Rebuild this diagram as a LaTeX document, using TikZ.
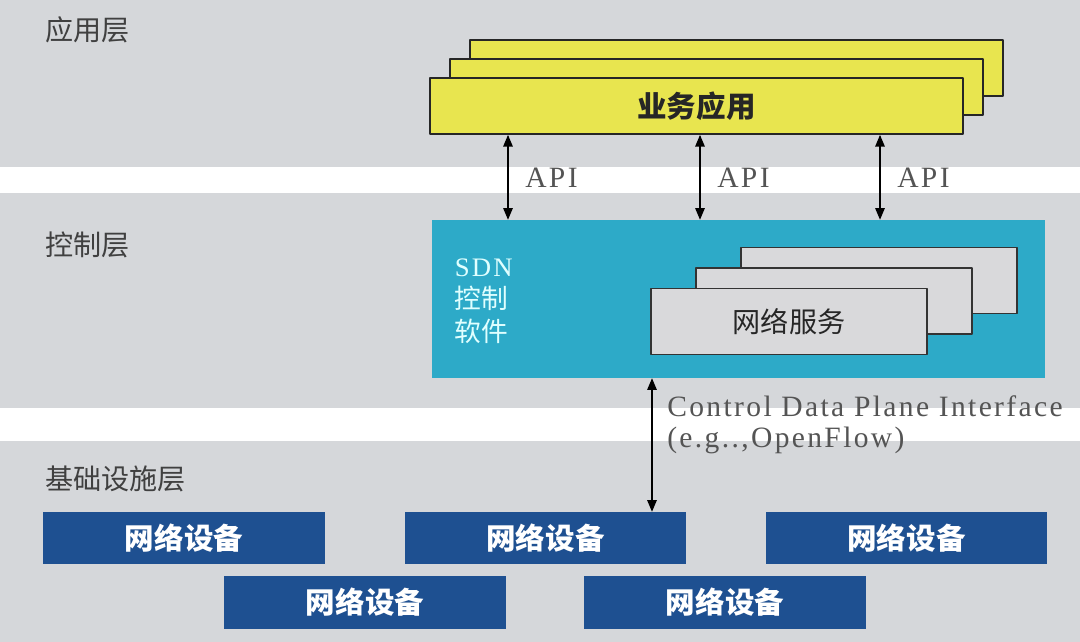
\documentclass[tikz,border=0pt]{standalone}
\usepackage{fontspec}
\setmainfont{Liberation Serif}
\newfontfamily\cjk{Noto Sans CJK SC}
\newfontfamily\spacedserif[LetterSpace=8]{Liberation Serif}
\usetikzlibrary{arrows}
\definecolor{ddddee}{rgb}{0.835,0.843,0.855}
\definecolor{eeeeqq}{rgb}{0.91,0.9,0.31}
\definecolor{ttaacc}{rgb}{0.176,0.667,0.784}
\definecolor{qqttaa}{rgb}{0.118,0.314,0.569}
\definecolor{dddddd}{rgb}{0.85,0.85,0.86}
\definecolor{llllll}{rgb}{0.33,0.33,0.33}
\definecolor{eeffff}{rgb}{0.88,1,1}
\tikzset{
  layer/.style={anchor=west,inner sep=0pt,text=black!75,font=\cjk\fontsize{20}{24}\selectfont},
  appbox/.style={draw=black!85,line width=1.4pt,fill=eeeeqq,minimum width=13.3cm,minimum height=1.4cm,inner sep=0pt},
  servbox/.style={draw=black!80,line width=1.4pt,fill=dddddd,minimum width=6.9cm,minimum height=1.65cm,inner sep=0pt},
  devbox/.style={fill=qqttaa,text=white,minimum width=7.03cm,minimum height=1.3cm,inner sep=0pt,font=\cjk\bfseries\fontsize{21}{24}\selectfont},
  iflabel/.style={anchor=west,text=llllll,font=\spacedserif\fontsize{21}{22}\selectfont}
}
\begin{document}
\begin{tikzpicture}[line cap=round,line join=round,>=triangle 45,x=0.025cm,y=-0.025cm]
      \useasboundingbox (0,0) rectangle (1080,642);
      \fill[color=ddddee] (0,0) rectangle (1080,642);
      \fill[color=white] (0,167) rectangle (1080,193);
      \fill[color=white] (0,408) rectangle (1080,441);
      \node[layer] (l1) at (45,30) {应用层};
      \node[layer] (l2) at (45,245) {控制层};
      \node[layer] (l3) at (45,479) {基础设施层};
      \foreach \i in {2,1}
      \node[appbox] (app\i) at (696.5+20*\i,106-19*\i) {};
      \node[appbox,text=black!85,font=\cjk\bfseries\fontsize{21}{24}\selectfont] (app) at (696.5,106) {业务应用};
      \node[fill=ttaacc,minimum width=15.33cm,minimum height=3.95cm,inner sep=0pt] (ctl) at (738.5,299) {};
      \node[anchor=west,align=left,text=eeffff,font=\cjk\fontsize{19}{23}\selectfont] (sdn) at (450,301) {{\spacedserif SDN}\\控制\\软件};
      \foreach \i in {2,1}
      \node[servbox] (serv\i) at (789+45*\i,321.5-20.5*\i) {};
      \node[servbox,text=black!85,font=\cjk\fontsize{20}{24}\selectfont] (serv) at (789,321.5) {网络服务};
      \node[devbox] (dev1) at (184,538) {网络设备};
      \node[devbox] (dev2) at (545.5,538) {网络设备};
      \node[devbox] (dev3) at (906.5,538) {网络设备};
      \node[devbox] (dev4) at (365,602.5) {网络设备};
      \node[devbox] (dev5) at (725,602.5) {网络设备};
      \foreach \x/\n in {508/1,700/2,880/3} {
      \coordinate (a\n) at (\x,0);
      \draw[<->,line width=0.9pt] (a\n |- app.south) -- (a\n |- ctl.north) node[midway,iflabel,xshift=0.3cm] (api\n) {API};
      }
      \coordinate (cp) at (652,0);
      \draw[<->,line width=0.9pt] (cp |- ctl.south) -- (cp |- dev2.north) node[pos=0.35,iflabel,align=left,xshift=0.25cm] (cdpi) {Control Data Plane Interface\\(e.g..,OpenFlow)};
\end{tikzpicture}
\end{document}
